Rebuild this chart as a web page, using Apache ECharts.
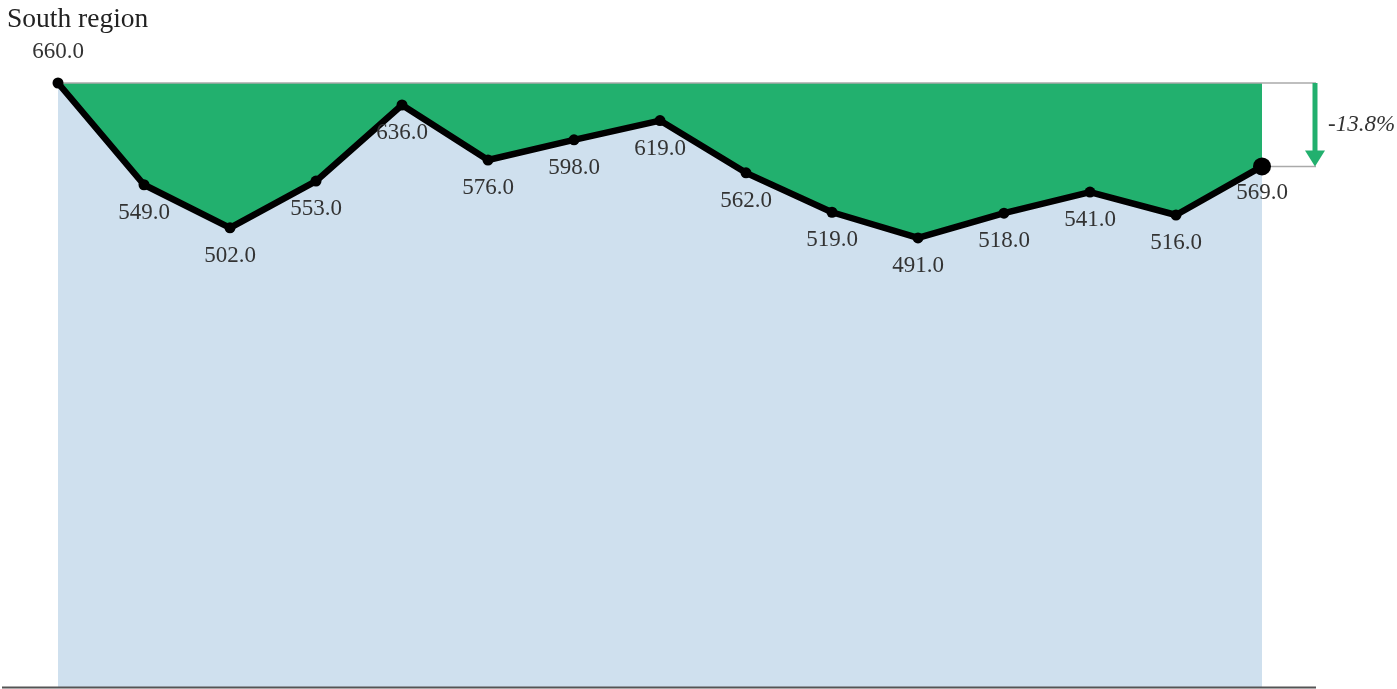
<!DOCTYPE html>
<html>
<head>
<meta charset="utf-8">
<script src="https://cdn.jsdelivr.net/npm/echarts@6/dist/echarts.min.js"></script>
<style>
html,body{margin:0;padding:0;background:#fff;}
#chart{width:1397px;height:689px;}
</style>
</head>
<body>
<div id="chart"></div>
<script>
const titleText = 'South region';
const categories = ['1','2','3','4','5','6','7','8','9','10','11','12','13','14','15'];
const values = [660, 549, 502, 553, 636, 576, 598, 619, 562, 519, 491, 518, 541, 516, 569];
const baseValue = values[0];
const gapValues = values.map(v => baseValue - v);

const GREEN = '#22b06e';
const BLUE = '#cfe0ee';
const FONT = '"Liberation Serif", "DejaVu Serif", serif';

const chart = echarts.init(document.getElementById('chart'), null, {renderer: 'canvas'});
const lastIdx = values.length - 1;

const labelData = values.map((v, i) => {
  const d = {value: v};
  if (i === 0) d.label = {position: 'top', distance: 14};
  if (i === lastIdx) { d.symbolSize = 18; d.label = {distance: 6}; }
  return d;
});

chart.setOption({
  animation: false,
  title: {
    text: titleText, left: 2, top: 1,
    textStyle: {fontFamily: FONT, fontSize: 27.5, fontWeight: 'normal', color: '#222'}
  },
  grid: {left: 58, right: 135, top: 83, bottom: 1},
  xAxis: {
    type: 'category', data: categories, boundaryGap: false,
    axisLine: {show: false}, axisTick: {show: false}, axisLabel: {show: false}, splitLine: {show: false}
  },
  yAxis: {
    type: 'value', min: 0, max: baseValue,
    axisLine: {show: false}, axisTick: {show: false}, axisLabel: {show: false}, splitLine: {show: false}
  },
  series: [
    {
      type: 'line', data: values, stack: 'a', symbol: 'none',
      lineStyle: {width: 0}, areaStyle: {color: BLUE, opacity: 1}, z: 1, silent: true
    },
    {
      type: 'line', data: gapValues, stack: 'a', symbol: 'none',
      lineStyle: {width: 0}, areaStyle: {color: GREEN, opacity: 1}, z: 1, silent: true
    },
    {
      type: 'line', data: labelData, symbol: 'circle', symbolSize: 11,
      lineStyle: {color: '#000', width: 6.5},
      itemStyle: {color: '#000'},
      label: {
        show: true, position: 'bottom', distance: 11,
        formatter: p => Number(p.value).toFixed(1),
        fontFamily: FONT, fontSize: 23, color: '#333'
      },
      z: 5
    }
  ]
});

function drawExtras() {
  const pFirst = chart.convertToPixel({gridIndex: 0}, [0, baseValue]);
  const pLast = chart.convertToPixel({gridIndex: 0}, [lastIdx, values[lastIdx]]);
  const pZero = chart.convertToPixel({gridIndex: 0}, [0, 0]);
  const arrowX = pLast[0] + 53;
  const lineEnd = arrowX + 1;
  const pct = (values[lastIdx] - baseValue) / baseValue * 100;
  const pctText = (pct > 0 ? '+' : '') + pct.toFixed(1) + '%';
  chart.setOption({
    graphic: [
      {type: 'line', shape: {x1: 2, y1: pZero[1] - 0.5, x2: lineEnd, y2: pZero[1] - 0.5},
        style: {stroke: '#555', lineWidth: 2}, z: 10},
      {type: 'line', shape: {x1: pFirst[0], y1: pFirst[1], x2: lineEnd, y2: pFirst[1]},
        style: {stroke: '#aaa', lineWidth: 1.5}, z: 3},
      {type: 'line', shape: {x1: pLast[0], y1: pLast[1], x2: lineEnd, y2: pLast[1]},
        style: {stroke: '#aaa', lineWidth: 1.5}, z: 3},
      {type: 'line', shape: {x1: arrowX, y1: pFirst[1], x2: arrowX, y2: pLast[1] - 14},
        style: {stroke: GREEN, lineWidth: 5}, z: 4},
      {type: 'polygon', shape: {points: [[arrowX - 10, pLast[1] - 16], [arrowX + 10, pLast[1] - 16], [arrowX, pLast[1]]]},
        style: {fill: GREEN}, z: 4},
      {type: 'text', x: arrowX + 13, y: (pFirst[1] + pLast[1]) / 2,
        style: {text: pctText, font: 'italic 23px ' + FONT, fill: '#333', textVerticalAlign: 'middle', verticalAlign: 'middle'}, z: 5}
    ]
  });
}
drawExtras();
</script>
</body>
</html>
